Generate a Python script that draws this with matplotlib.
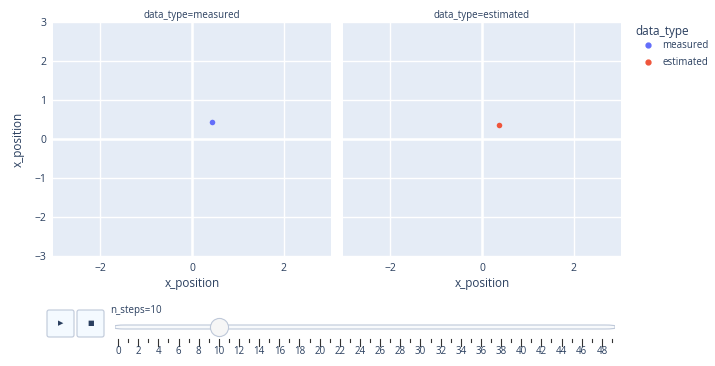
import matplotlib

matplotlib.use("Agg")
import matplotlib.pyplot as plt  # noqa: E402
from matplotlib.patches import FancyBboxPatch  # noqa: E402
from matplotlib.lines import Line2D  # noqa: E402

# -------------------------------
# Data (frame n_steps=10)
# -------------------------------
facets = ["measured", "estimated"]
point_x = {"measured": [0.43], "estimated": [0.38]}
point_y = {"measured": [0.43], "estimated": [0.37]}
colors = {"measured": "#636EFA", "estimated": "#EF553B"}

x_ticks = [-2, 0, 2]
y_ticks = [-3, -2, -1, 0, 1, 2, 3]
axis_range = (-3.03, 3.03)
y_range = (-3, 3)

steps = list(range(50))
step_labels = [str(s) for s in steps if s % 2 == 0]
current_step = 10

# -------------------------------
# Style
# -------------------------------
plt.rcParams["font.family"] = ["Open Sans", "DejaVu Sans"]
TEXT = "#2a3f5f"
BG = "#E5ECF6"
W, H = 715, 366

fig = plt.figure(figsize=(W / 100, H / 100), dpi=100)


def px_box(x0, y0, x1, y1):
    return [x0 / W, 1 - y1 / H, (x1 - x0) / W, (y1 - y0) / H]


boxes = [px_box(53, 22, 331, 256), px_box(343, 22, 621, 256)]

for i, (name, box) in enumerate(zip(facets, boxes)):
    ax = fig.add_axes(box)
    ax.set_facecolor(BG)
    for sp in ax.spines.values():
        sp.set_visible(False)
    ax.set_xlim(*axis_range)
    ax.set_ylim(*y_range)
    ax.set_xticks(x_ticks)
    ax.set_yticks(y_ticks)
    ax.grid(True, color="white", linewidth=1)
    ax.axvline(0, color="white", linewidth=1.8, zorder=1)
    ax.axhline(0, color="white", linewidth=1.8, zorder=1)
    ax.set_axisbelow(True)
    ax.tick_params(length=0, colors=TEXT, labelsize=7.5, pad=5)
    if i > 0:
        ax.tick_params(labelleft=False)
    else:
        ax.set_ylabel("x_position", fontsize=8.5, color=TEXT, labelpad=7)
    ax.set_xlabel("x_position", fontsize=8.5, color=TEXT, labelpad=2)
    ax.scatter(point_x[name], point_y[name], s=16, color=colors[name],
               zorder=3, linewidths=0)
    ax.set_title(f"data_type={name}", fontsize=7, color=TEXT, pad=3)

# Legend
fig.text(635 / W, 1 - 32 / H, "data_type", fontsize=8.5, color=TEXT, va="center")
handles = [Line2D([], [], marker="o", linestyle="", color=colors[n], markersize=3.5)
           for n in facets]
leg = fig.legend(handles, facets, loc="upper left", bbox_to_anchor=(640 / W, 1 - 40 / H),
                 frameon=False, fontsize=7, handlelength=1.6, handletextpad=0.7,
                 labelspacing=0.65, borderaxespad=0, borderpad=0)
for t in leg.get_texts():
    t.set_color(TEXT)

# -------------------------------
# Animation controls
# -------------------------------
deco = fig.add_axes([0, 0, 1, 1])
deco.set_xlim(0, W)
deco.set_ylim(H, 0)
deco.axis("off")
for x0, glyph in [(47, "\u25B6"), (77, "\u25A0")]:
    deco.add_patch(FancyBboxPatch((x0, 310), 27, 27, boxstyle="round,pad=0,rounding_size=2",
                                  facecolor="#F4FAFF", edgecolor="#BEC8D9", linewidth=0.8))
    deco.text(x0 + 13.5, 323.5, glyph, fontsize=5, color=TEXT, ha="center", va="center",
              family="DejaVu Sans")
deco.text(110, 310, f"n_steps={current_step}", fontsize=7, color=TEXT, va="center")

sl = fig.add_axes([115 / W, 1 - 366 / H, 500 / W, 50 / H])
sl.set_xlim(-0.3, 49.3)
sl.set_ylim(50, 0)
sl.axis("off")
sl.add_patch(FancyBboxPatch((-0.3, 9), 49.6, 4, boxstyle="round,pad=0,rounding_size=1",
                            facecolor="#F8FAFC", edgecolor="#BEC8D9", linewidth=0.8,
                            mutation_aspect=1))
sl.scatter([current_step], [11], s=170, facecolor="#F6F6F6", edgecolor="#BEC8D9",
           linewidth=0.8, zorder=3)
for s in steps:
    long_tick = str(s) in step_labels
    sl.plot([s, s], [23, 30 if long_tick else 26], color="#333333", linewidth=0.8)
for lab in step_labels:
    sl.text(int(lab), 36, lab, fontsize=7, color=TEXT, ha="center", va="center")

fig.savefig("out.png", dpi=100)
